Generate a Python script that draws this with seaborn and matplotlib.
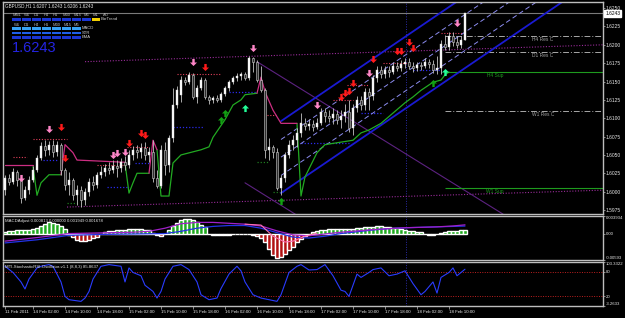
import numpy as np
import pandas as pd
import matplotlib
matplotlib.use("Agg")
import matplotlib.pyplot as plt
import matplotlib.transforms as mtransforms
from matplotlib.path import Path
from matplotlib.patches import Rectangle
import seaborn as sns

# ---------------- data (GBPUSD H1) ----------------
opens = [1.6002, 1.6019, 1.6013, 1.6027, 1.6016, 1.5991, 1.6002, 1.6016, 1.6029, 1.6046,
         1.6062, 1.6057, 1.6064, 1.6054, 1.6064, 1.6029, 1.6009, 1.6016, 1.5995, 1.6002,
         1.5989, 1.5999, 1.6013, 1.6009, 1.6023, 1.6027, 1.6032, 1.6029, 1.6035, 1.6032,
         1.6040, 1.6036, 1.6050, 1.6057, 1.6054, 1.6059, 1.6050, 1.6054, 1.6019, 1.6008,
         1.6057, 1.6036, 1.6073, 1.6118, 1.6132, 1.6152, 1.6149, 1.6159, 1.6129, 1.6141,
         1.6152, 1.6129, 1.6125, 1.6128, 1.6125, 1.6133, 1.6141, 1.6149, 1.6155, 1.6157,
         1.6160, 1.6155, 1.6182, 1.6177, 1.6152, 1.6138, 1.6057, 1.6061, 1.6054, 1.6005,
         1.6019, 1.6050, 1.6064, 1.6070, 1.6080, 1.6093, 1.6089, 1.6092, 1.6088, 1.6093,
         1.6108, 1.6103, 1.6100, 1.6106, 1.6098, 1.6103, 1.6108, 1.6087, 1.6114, 1.6125,
         1.6118, 1.6136, 1.6130, 1.6155, 1.6166, 1.6160, 1.6166, 1.6163, 1.6171, 1.6168,
         1.6174, 1.6177, 1.6171, 1.6168, 1.6172, 1.6171, 1.6177, 1.6174, 1.6166, 1.6168,
         1.6201, 1.6197, 1.6212, 1.6204, 1.6200, 1.6207]
closes = [1.6019, 1.6013, 1.6027, 1.6016, 1.5991, 1.6002, 1.6016, 1.6029, 1.6046, 1.6062,
          1.6057, 1.6064, 1.6054, 1.6064, 1.6029, 1.6009, 1.6016, 1.5995, 1.6002, 1.5989,
          1.5999, 1.6013, 1.6009, 1.6023, 1.6027, 1.6032, 1.6029, 1.6035, 1.6032, 1.6040,
          1.6036, 1.6050, 1.6057, 1.6054, 1.6059, 1.6050, 1.6054, 1.6019, 1.6008, 1.6057,
          1.6036, 1.6073, 1.6118, 1.6138, 1.6152, 1.6149, 1.6159, 1.6129, 1.6141, 1.6152,
          1.6129, 1.6125, 1.6128, 1.6125, 1.6133, 1.6141, 1.6149, 1.6155, 1.6157, 1.6160,
          1.6155, 1.6182, 1.6177, 1.6152, 1.6138, 1.6057, 1.6061, 1.6054, 1.6005, 1.6019,
          1.6050, 1.6064, 1.6070, 1.6080, 1.6093, 1.6089, 1.6092, 1.6088, 1.6093, 1.6108,
          1.6103, 1.6100, 1.6106, 1.6098, 1.6103, 1.6108, 1.6087, 1.6114, 1.6125, 1.6118,
          1.6136, 1.6130, 1.6155, 1.6166, 1.6160, 1.6166, 1.6163, 1.6171, 1.6168, 1.6174,
          1.6177, 1.6171, 1.6168, 1.6172, 1.6171, 1.6177, 1.6174, 1.6166, 1.6168, 1.6201,
          1.6197, 1.6212, 1.6204, 1.6200, 1.6207, 1.6243]
highs = [1.6023, 1.6024, 1.6032, 1.6029, 1.6019, 1.6008, 1.6021, 1.6035, 1.6050, 1.6068,
         1.6070, 1.6069, 1.6070, 1.6069, 1.6066, 1.6032, 1.6027, 1.6019, 1.6009, 1.6008,
         1.6005, 1.6019, 1.6021, 1.6027, 1.6035, 1.6038, 1.6040, 1.6043, 1.6043, 1.6046,
         1.6049, 1.6057, 1.6062, 1.6064, 1.6066, 1.6068, 1.6061, 1.6070, 1.6029, 1.6064,
         1.6068, 1.6077, 1.6141, 1.6144, 1.6157, 1.6156, 1.6163, 1.6162, 1.6145, 1.6156,
         1.6155, 1.6132, 1.6130, 1.6132, 1.6136, 1.6144, 1.6152, 1.6157, 1.6162, 1.6163,
         1.6163, 1.6185, 1.6183, 1.6179, 1.6171, 1.6141, 1.6073, 1.6064, 1.6059, 1.6023,
         1.6054, 1.6070, 1.6077, 1.6087, 1.6107, 1.6100, 1.6099, 1.6098, 1.6100, 1.6114,
         1.6114, 1.6111, 1.6114, 1.6111, 1.6111, 1.6119, 1.6125, 1.6119, 1.6130, 1.6130,
         1.6141, 1.6141, 1.6159, 1.6171, 1.6171, 1.6171, 1.6171, 1.6177, 1.6177, 1.6179,
         1.6182, 1.6182, 1.6177, 1.6177, 1.6177, 1.6182, 1.6181, 1.6179, 1.6185, 1.6207,
         1.6213, 1.6217, 1.6217, 1.6212, 1.6212, 1.6243]
lows = [1.5995, 1.6009, 1.6010, 1.6008, 1.5985, 1.5989, 1.5997, 1.6013, 1.6027, 1.6043,
        1.6049, 1.6050, 1.6047, 1.6049, 1.6023, 1.6002, 1.5995, 1.5989, 1.5982, 1.5979,
        1.5982, 1.5994, 1.6002, 1.6005, 1.6019, 1.6021, 1.6024, 1.6025, 1.6020, 1.6027,
        1.6029, 1.6032, 1.6043, 1.6046, 1.6046, 1.6043, 1.6040, 1.6013, 1.6005, 1.6005,
        1.6023, 1.6027, 1.6068, 1.6114, 1.6122, 1.6145, 1.6147, 1.6126, 1.6121, 1.6138,
        1.6126, 1.6119, 1.6121, 1.6122, 1.6122, 1.6130, 1.6137, 1.6147, 1.6151, 1.6152,
        1.6152, 1.6152, 1.6163, 1.6149, 1.6136, 1.6046, 1.6043, 1.6046, 1.6002, 1.5995,
        1.6013, 1.6046, 1.6057, 1.6061, 1.6074, 1.6084, 1.6084, 1.6083, 1.6085, 1.6091,
        1.6095, 1.6095, 1.6092, 1.6092, 1.6087, 1.6095, 1.6081, 1.6077, 1.6108, 1.6111,
        1.6111, 1.6111, 1.6125, 1.6149, 1.6155, 1.6155, 1.6156, 1.6160, 1.6164, 1.6164,
        1.6168, 1.6167, 1.6163, 1.6164, 1.6166, 1.6168, 1.6168, 1.6162, 1.6160, 1.6160,
        1.6193, 1.6193, 1.6198, 1.6196, 1.6196, 1.6206]

# trailing-stop indicator (green = up, pink = down), as bar/price segments
green_trail = [
    ([7, 8, 9, 11, 14], [1.6034, 1.5995, 1.6012, 1.6023, 1.6023]),
    ([30, 31, 32, 33, 36], [1.6039, 1.5998, 1.6012, 1.6025, 1.6025]),
    ([38, 39, 41, 42, 44, 49, 51, 52, 55, 57, 59, 60, 63],
     [1.6057, 1.5994, 1.5994, 1.6039, 1.6050, 1.6057, 1.6061, 1.6074, 1.6098, 1.6118, 1.6125, 1.6132, 1.6134]),
    ([73, 74, 75, 78, 80, 87, 89, 91, 94, 97, 100, 102, 104, 107, 109, 110, 111],
     [1.6093, 1.5994, 1.6020, 1.6053, 1.6064, 1.6070, 1.6080, 1.6084, 1.6093, 1.6107, 1.6121,
      1.6129, 1.6138, 1.6149, 1.6152, 1.6159, 1.6163]),
]
pink_trail = [
    ([0, 7], [1.6036, 1.6036]),
    ([14, 15, 17, 18, 30], [1.6023, 1.6064, 1.6053, 1.6043, 1.6040]),
    ([36, 37, 38], [1.6025, 1.6070, 1.6057]),
    ([63, 64, 65, 67, 69, 73], [1.6134, 1.6156, 1.6136, 1.6111, 1.6093, 1.6093]),
]

# regression channel (start bar -> right edge)
channel_bars = [69, 149.5]
channel_upper = [1.6096, 1.6394]
channel_lower = [1.5998, 1.6296]
channel_inner = [[1.6022, 1.6320], [1.6047, 1.6345], [1.6071, 1.6369]]

# purple trend lines
diag_upper_bars, diag_upper_vals = [63, 149.5], [1.6177, 1.5885]
diag_lower_bars, diag_lower_vals = [60, 75], [1.6012, 1.5961]
dot_upper_bars, dot_upper_vals = [20, 149.5], [1.6177, 1.6200]
dot_lower_bars, dot_lower_vals = [15.5, 149.5], [1.5979, 1.6002]

# pivot levels
pivot_names = ["H4 Res C", "D1 Res C", "W1 Res C"]
pivot_vals = [1.6212, 1.6190, 1.6110]
support_names = ["H4 Sup", "W1 Sup"]
support_vals = [1.6163, 1.6005]
pivot_start_bar = 110
bid_price = 1.6243

# short dotted levels
red_lvl_start = [7, 2, 23, 30.5, 43, 65.5, 82, 85.5, 94.5, 109]
red_lvl_end = [15.5, 5.5, 29.5, 36, 54, 68, 87, 91, 100.5, 114.5]
red_lvl_val = [1.6072, 1.6047, 1.6036, 1.6061, 1.6160, 1.6104, 1.6125, 1.6145, 1.6175, 1.6216]
blue_lvl_start = [9.5, 25.5, 42, 56, 32.5, 74, 89, 102]
blue_lvl_end = [13, 31, 49.5, 63, 36, 86, 94.5, 109]
blue_lvl_val = [1.6043, 1.6006, 1.6088, 1.6136, 1.6039, 1.6066, 1.6107, 1.6166]
grn_lvl_start = [63, 67, 15.5]
grn_lvl_end = [66, 69.5, 18]
grn_lvl_val = [1.6040, 1.5999, 1.5985]

# signal arrows
pink_dn_bars = [4, 11, 27, 28, 30, 47, 62, 78, 91, 113]
pink_dn_vals = [1.6019, 1.6085, 1.6050, 1.6053, 1.6054, 1.6177, 1.6196, 1.6118, 1.6162, 1.6230]
red_dn_bars = [14, 15, 31, 34, 35, 50, 84, 85, 86, 87, 92, 98, 99, 101, 102]
red_dn_vals = [1.6088, 1.6046, 1.6066, 1.6080, 1.6077, 1.6170, 1.6129, 1.6134, 1.6137, 1.6148,
               1.6181, 1.6192, 1.6192, 1.6204, 1.6196]
green_up_bars = [54, 55, 69, 107]
green_up_vals = [1.6098, 1.6107, 1.5987, 1.6148]
mint_up_bars = [60, 110]
mint_up_vals = [1.6114, 1.6163]

# MACD (values in 1e-4)
macd_hist = [4, 6, 6, 7, 7, 7, 8, 10, 13, 17,
             22, 25, 24, 22, 16, 10, -4, -8, -14, -16,
             -17, -15, -10, -7, -2, 3, 5, 6, 7, 8,
             9, 10, 11, 11, 10, 9, 8, 2, -3, -5,
             -2, 8, 18, 24, 30, 33, 32, 30, 26, 20,
             14, -2, -3, -4, -4, -3, -3, -2, -2, -1,
             -1, -2, -3, -6, -10, -20, -35, -48, -55, -52,
             -45, -38, -30, -20, -12, -6, -2, 4, 6, 8,
             9, 10, 10, 10, 11, 11, 10, 11, 12, 13,
             14, 15, 15, 16, 16, 15, 14, 13, 12, 10,
             8, 6, 5, 4, 3, -1, -3, -3, -2, 2,
             4, 5, 6, 6, 7, 8]
macd_main_bars = [0, 8, 16, 24, 32, 36, 40, 44, 48, 52, 56, 60, 64, 68, 72, 76, 80, 84, 88, 92, 96,
                  100, 104, 108, 112, 115]
macd_main_vals = [-17, -9, 0, 1.5, 3, 5, 12, 22, 25, 25, 23, 21, 17, 6, -3, -5, -1, 3, 6, 9, 11,
                  13, 14, 15, 17, 19.5]
macd_sig_bars = [0, 8, 16, 24, 32, 40, 44, 48, 52, 56, 60, 64, 68, 72, 76, 80, 84, 88, 92, 96, 100,
                 104, 108, 112, 115]
macd_sig_vals = [-21, -14, -4, -2, -1, 0, 5, 12, 16, 18, 18, 12, 2, -8, -10, -6, 0, 4, 8, 11, 13,
                 14, 15, 16, 16.8]
macd_fast_bars = [60, 64, 67, 70, 72, 75, 78]
macd_fast_vals = [21, 19, -6, -19, -17, -6, 1]

# Stochastic RSI
stoch_bars = [0, 2, 4, 5, 6, 8, 9, 11, 12, 14, 15, 16, 19, 20, 21, 22, 24, 26, 29, 30,
              31, 32, 34, 35, 37, 38, 39, 40, 42, 44, 46, 48, 49, 51, 53, 54, 56, 58, 59, 60,
              62, 64, 66, 68, 69, 71, 73, 74, 76, 78, 80, 82, 84, 85, 86, 88, 89, 91, 92, 94,
              96, 98, 100, 102, 104, 105, 107, 108, 109, 111, 112, 113, 115]
stoch_vals = [93, 78, 55, 38, 62, 89, 93, 97, 93, 55, 20, 12, 8, 16, 32, 62, 93, 97, 93, 55,
              89, 78, 70, 47, 32, 16, 32, 62, 93, 97, 85, 55, 24, 12, 16, 39, 74, 93, 82, 55,
              24, 16, 12, 8, 24, 78, 93, 97, 84, 85, 97, 70, 35, 32, 20, 74, 66, 78, 85, 89,
              70, 74, 82, 51, 24, 32, 55, 28, 66, 78, 89, 70, 85.86]

xlabel_bars = [0, 7, 15, 23, 31, 39, 47, 55, 63, 71, 79, 87, 95, 103, 111]
xlabel_texts = ["11 Feb 2011", "14 Feb 02:00", "14 Feb 10:00", "14 Feb 18:00", "15 Feb 02:00",
                "15 Feb 10:00", "15 Feb 18:00", "16 Feb 02:00", "16 Feb 10:00", "16 Feb 18:00",
                "17 Feb 02:00", "17 Feb 10:00", "17 Feb 18:00", "18 Feb 02:00", "18 Feb 10:00"]
price_ticks = [1.6250, 1.6225, 1.6200, 1.6175, 1.6150, 1.6125, 1.6100, 1.6075, 1.6050,
               1.6025, 1.6000, 1.5975]
day_sep_bar = 100.25

# ---------------- style ----------------
sns.set_theme(style="dark")
plt.rcParams['font.family'] = ['Liberation Sans', 'DejaVu Sans']
SMALL = 3.5
W, H = 625, 318
fig = plt.figure(figsize=(W / 100, H / 100), dpi=100)
fig.patch.set_facecolor('black')


def rect(x0, y0, x1, y1):
    return [x0 / W, 1 - y1 / H, (x1 - x0) / W, (y1 - y0) / H]


ax_p = fig.add_axes(rect(3, 2, 603, 214))
ax_m = fig.add_axes(rect(3, 216, 603, 260))
ax_s = fig.add_axes(rect(3, 262, 603, 306))

FRAME = '#bdbdbd'
TXT = '#e8e8e8'
for ax in (ax_p, ax_m, ax_s):
    ax.set_facecolor('black')
    ax.set_xlim(-0.5, 149.5)
    ax.grid(False)
    for sp in ax.spines.values():
        sp.set_visible(True)
        sp.set_color(FRAME)
        sp.set_linewidth(1.0)
    ax.yaxis.tick_right()
    ax.tick_params(axis='y', which='both', left=False, right=True, colors=FRAME, labelcolor=TXT,
                   labelsize=SMALL, length=1.5, width=0.5, pad=0.7)
    ax.axvline(day_sep_bar, color='#2c2ca8', lw=0.7, ls=(0, (1, 1.6)), zorder=1)
for ax in (ax_p, ax_m):
    ax.tick_params(axis='x', bottom=False, labelbottom=False)

# ---------------- price panel ----------------
o = np.array(opens)
c = np.array(closes)
hi = np.maximum.reduce([np.array(highs), o, c])
lo = np.minimum.reduce([np.array(lows), o, c])
bars = np.arange(len(c))
ax_p.set_ylim(1.596953, 1.62583)
ax_p.set_yticks(price_ticks)
ax_p.set_yticklabels([f"{t:.4f}" for t in price_ticks])

# dotted purple pitch lines
ax_p.plot(dot_upper_bars, dot_upper_vals, color='#9a2c9a', lw=0.8, ls=(0, (1, 1.5)), zorder=1)
ax_p.plot(dot_lower_bars, dot_lower_vals, color='#9a2c9a', lw=0.8, ls=(0, (1, 1.5)), zorder=1)
# purple diagonals
ax_p.plot(diag_upper_bars, diag_upper_vals, color='#5c2280', lw=0.8, zorder=1)
ax_p.plot(diag_lower_bars, diag_lower_vals, color='#5c2280', lw=0.8, zorder=1)

# bid line
ax_p.axhline(bid_price, color='#7a7a7a', lw=0.8, zorder=1)

# pivots
for name, v in zip(pivot_names, pivot_vals):
    ax_p.hlines(v, pivot_start_bar, 149.5, colors='#a8a8a8', lw=0.7, linestyles=(0, (6, 2, 1, 2)), zorder=1)
    ax_p.text(134.5, v - 0.00012, name, color='#a0a0a0', fontsize=SMALL, ha='center', va='top')
for name, v in zip(support_names, support_vals):
    ax_p.hlines(v, pivot_start_bar, 149.5, colors='#1e9a1e', lw=0.8, zorder=1)
    ax_p.text(122.5, v - 0.00012, name, color='#1e9a1e', fontsize=SMALL, ha='center', va='top')

# short levels
ax_p.hlines(red_lvl_val, red_lvl_start, red_lvl_end, colors='#e0405a', lw=0.8, linestyles=(0, (1, 1.5)), zorder=2)
ax_p.hlines(blue_lvl_val, blue_lvl_start, blue_lvl_end, colors='#2a2ae8', lw=0.9, linestyles=(0, (1, 1.5)), zorder=2)
ax_p.hlines(grn_lvl_val, grn_lvl_start, grn_lvl_end, colors='#1f7a1f', lw=0.9, linestyles=(0, (1, 1.5)), zorder=2)

# regression channel
for inner in channel_inner:
    ax_p.plot(channel_bars, inner, color='#8c8cf0', lw=0.7, ls=(0, (5, 3)), zorder=2)
sns.lineplot(x=channel_bars, y=channel_upper, ax=ax_p, color='#1a1ad2', lw=1.3, legend=False,
             estimator=None, sort=False, zorder=2)
sns.lineplot(x=channel_bars, y=channel_lower, ax=ax_p, color='#1a1ad2', lw=1.3, legend=False,
             estimator=None, sort=False, zorder=2)

# trailing stop
for bx, vy in green_trail:
    sns.lineplot(x=bx, y=vy, ax=ax_p, color='#22aa22', lw=0.9, legend=False, estimator=None,
                 sort=False, zorder=2)
for bx, vy in pink_trail:
    sns.lineplot(x=bx, y=vy, ax=ax_p, color='#cc2e82', lw=0.9, legend=False, estimator=None,
                 sort=False, zorder=2)

# candles
ax_p.vlines(bars, lo, hi, colors='#c4c4c4', linewidth=0.6, zorder=3)
up = c >= o
body_lo = np.minimum(o, c)
body_h = np.maximum(np.abs(c - o), 0.00004)
ax_p.bar(bars[up], body_h[up], bottom=body_lo[up], width=0.62, color='#ffffff',
         edgecolor='#dadada', linewidth=0.3, zorder=4)
ax_p.bar(bars[~up], body_h[~up], bottom=body_lo[~up], width=0.62, color='#2e2e2e',
         edgecolor='#cfcfcf', linewidth=0.4, zorder=4)

# arrows
dn = Path([(-0.17, 0.5), (0.17, 0.5), (0.17, 0.0), (0.5, 0.0), (0.0, -0.5), (-0.5, 0.0),
           (-0.17, 0.0), (-0.17, 0.5)], closed=True)
upa = Path([(-0.17, -0.5), (0.17, -0.5), (0.17, 0.0), (0.5, 0.0), (0.0, 0.5), (-0.5, 0.0),
            (-0.17, 0.0), (-0.17, -0.5)], closed=True)
ax_p.scatter(pink_dn_bars, pink_dn_vals, marker=dn, s=26, color='#ff86c8', linewidths=0, zorder=6)
ax_p.scatter(red_dn_bars, red_dn_vals, marker=dn, s=26, color='#ff1a1a', linewidths=0, zorder=6)
ax_p.scatter(green_up_bars, green_up_vals, marker=upa, s=26, color='#12a012', linewidths=0, zorder=6)
ax_p.scatter(mint_up_bars, mint_up_vals, marker=upa, s=26, color='#22ff99', linewidths=0, zorder=6)

# current price tag
bt = mtransforms.blended_transform_factory(ax_p.transAxes, ax_p.transData)
ax_p.text(1.004, bid_price, f"{bid_price:.4f}", transform=bt, color='black', fontsize=SMALL,
          ha='left', va='center', zorder=10,
          bbox=dict(boxstyle='square,pad=0.2', fc='white', ec='white'))
ax_p.set_xlabel('')
ax_p.set_ylabel('')

# ---------------- MACD panel ----------------
hist = np.array(macd_hist) * 1e-4
ax_m.set_ylim(-0.00593, 0.003934)
ax_m.bar(bars, hist, width=0.78, color=np.where(hist >= 0, '#1faa1f', '#b01010'), zorder=2)
sns.lineplot(x=macd_sig_bars, y=np.array(macd_sig_vals) * 1e-4, ax=ax_m, color='#2233e6', lw=0.9,
             legend=False, estimator=None, sort=False, zorder=3)
sns.lineplot(x=macd_main_bars, y=np.array(macd_main_vals) * 1e-4, ax=ax_m, color='#a020c8', lw=0.9,
             legend=False, estimator=None, sort=False, zorder=3)
sns.lineplot(x=macd_fast_bars, y=np.array(macd_fast_vals) * 1e-4, ax=ax_m, color='#ff70b0', lw=0.8,
             legend=False, estimator=None, sort=False, zorder=3)
ax_m.set_yticks([0.003934, 0.0, -0.00593])
ax_m.set_yticklabels(["0.003934", "0.00", "-0.00593"])
tl = ax_m.get_yticklabels()
tl[0].set_va('top')
tl[2].set_va('bottom')
for t in tl:
    t.set_fontsize(3.1)
ax_m.set_xlabel('')
ax_m.set_ylabel('')

# ---------------- Stochastic panel ----------------
ax_s.set_ylim(-3.2633, 103.3322)
ax_s.axhline(80, color='#c02020', lw=0.7, ls=(0, (1, 1.5)), zorder=1)
ax_s.axhline(20, color='#c02020', lw=0.7, ls=(0, (1, 1.5)), zorder=1)
sns.lineplot(x=stoch_bars, y=stoch_vals, ax=ax_s, color='#2a3cff', lw=0.8, legend=False,
             estimator=None, sort=False, zorder=3)
ax_s.set_yticks([103.3322, 80, 20, -3.2633])
ax_s.set_yticklabels(["103.3322", "80", "20", "-3.2633"])
tl = ax_s.get_yticklabels()
tl[0].set_va('top')
tl[3].set_va('bottom')
for t in tl:
    t.set_fontsize(3.1)
ax_s.set_xticks(xlabel_bars)
ax_s.set_xticklabels(xlabel_texts, ha='left')
ax_s.tick_params(axis='x', bottom=True, colors=FRAME, labelcolor=TXT, labelsize=3.15,
                 length=2, width=0.5, pad=1.2)
ax_s.set_xlabel('')
ax_s.set_ylabel('')

# ---------------- texts / widget ----------------
def ftxt(x, y, s, color=TXT, size=SMALL, **kw):
    fig.text(x / W, 1 - y / H, s, color=color, fontsize=size, va='center', ha='left', zorder=11, **kw)


def frect(x, y, w, h, color):
    fig.patches.append(Rectangle((x / W, 1 - (y + h) / H), w / W, h / H, transform=fig.transFigure,
                                 facecolor=color, edgecolor='none', zorder=10))


ftxt(5, 6, "GBPUSD,H1 1.6207 1.6243 1.6206 1.6243", size=3.3)
ftxt(5, 221, "MACDAdjust 0.000813 0.000000 0.001949 0.001678", size=3.1)
ftxt(5, 267, "MTI-StochasticRSI-Oscillator-v1.1 (8,8,3) 85.8637", size=3.1)

row1 = ['MN1', 'W1', 'D1', 'H4', 'H1', 'M30', 'M15', 'M5', 'M1', 'AO']
row1_x = [13, 24, 34, 44, 53, 63, 74, 84, 93, 103]
for s, x in zip(row1, row1_x):
    ftxt(x, 15.5, s, color='#b8b8b8', size=3.0)
for j in range(8):
    frect(12 + 10 * j, 18, 9, 3, '#1a35d5')
frect(92, 18, 8, 3, '#f2cf00')
ftxt(101, 19.5, "BarTrend", color='#d0d0d0', size=3.0)
row2 = ['W1', 'D1', 'H4', 'H1', 'M30', 'M15', 'M5']
row2_x = [14, 24, 34, 44, 53, 64, 74]
for s, x in zip(row2, row2_x):
    ftxt(x, 24.5, s, color='#b8b8b8', size=3.0)
for yy, col, name in [(27, '#37a2f5', 'MACD'), (31.5, '#1f5fe8', 'STR'), (36, '#1a35d5', 'EMA')]:
    for j in range(7):
        frect(12 + 10 * j, yy, 9, 2.6, col)
    ftxt(82, yy + 1.3, name, color='#d0d0d0', size=3.0)
ftxt(12, 48.5, "1.6243", color='#2424e2', size=10.5)

fig.savefig("out.png", dpi=100, facecolor='black')
